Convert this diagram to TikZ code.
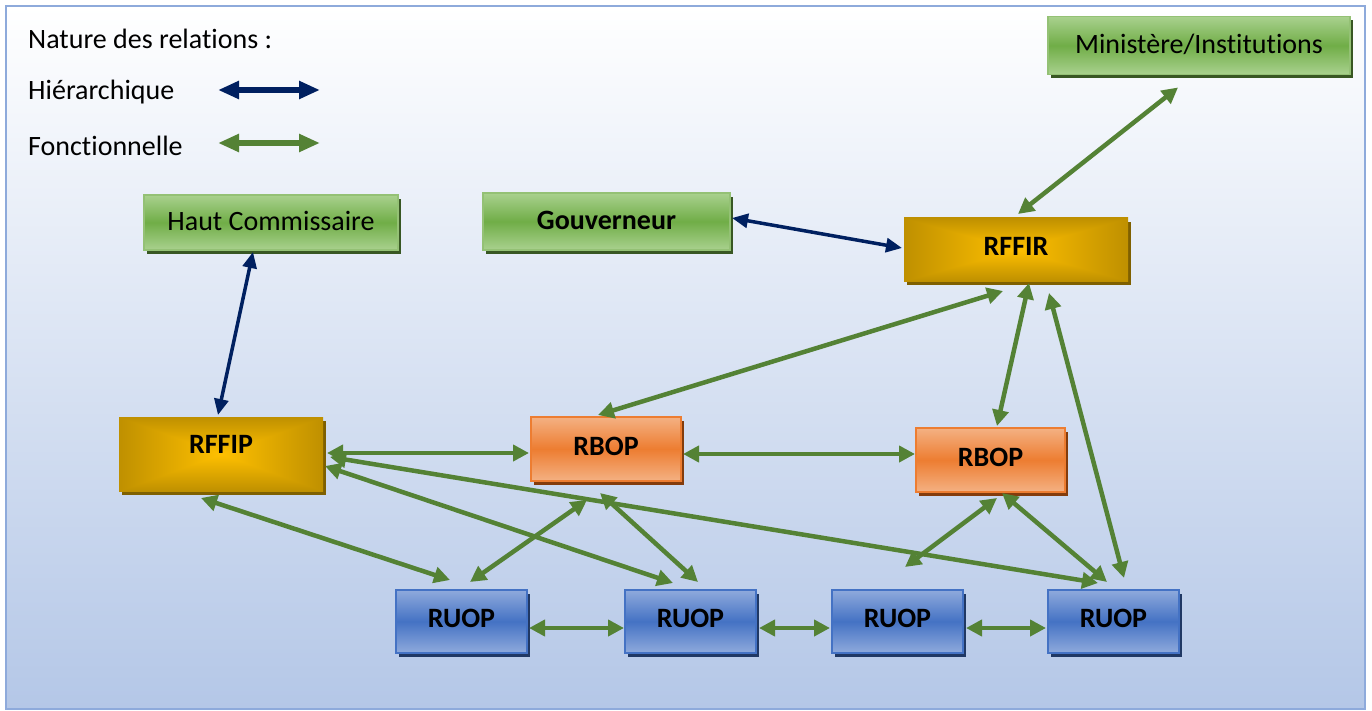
\documentclass[tikz,border=0pt]{standalone}
\usepackage{fontspec}
\setmainfont{Carlito}[Ligatures=NoCommon]
\usetikzlibrary{arrows.meta,shadows,calc}
\definecolor{navy}{HTML}{002060}
\definecolor{fgreen}{HTML}{548235}
\definecolor{gLight}{HTML}{A9D18E}
\definecolor{gMid}{HTML}{70AD47}
\definecolor{gShadow}{HTML}{385723}
\definecolor{oLight}{HTML}{F4B183}
\definecolor{oMid}{HTML}{ED7D31}
\definecolor{oShadow}{HTML}{843C0C}
\definecolor{bLight}{HTML}{8FAADC}
\definecolor{bMid}{HTML}{4472C4}
\definecolor{bShadow}{HTML}{203864}
\definecolor{goldShadow}{HTML}{7F6000}
\definecolor{bgBottom}{HTML}{B4C7E7}
\definecolor{frameC}{HTML}{8EAADB}
\pgfdeclarefunctionalshading{goldrect}{\pgfpoint{-50bp}{-50bp}}{\pgfpoint{50bp}{50bp}}{}{
  abs exch abs 2 copy sub abs 3 1 roll add add 2 div 25 div
  dup -0.251 mul 1 add exch -0.188 mul 0.753 add 0
}
\tikzset{
  box/.style={rectangle, inner sep=0pt, outer sep=0pt, text=black,
    text height=12pt, text depth=0pt},
  greenbox/.style={box, top color=gLight, bottom color=gLight, middle color=gMid,
    draw=gMid!75!white, line width=1.5pt, text height=17pt,
    drop shadow={shadow xshift=3pt, shadow yshift=-4pt, fill=gShadow, opacity=1}},
  goldbox/.style={box, shade, shading=goldrect, font=\fontsize{28}{34}\selectfont\bfseries,
    drop shadow={shadow xshift=3pt, shadow yshift=-4pt, fill=goldShadow, opacity=1}},
  orangebox/.style={box, top color=oLight, bottom color=oLight, middle color=oMid,
    draw=oMid, line width=2pt, font=\fontsize{28}{34}\selectfont\bfseries,
    drop shadow={shadow xshift=3pt, shadow yshift=-4pt, fill=oShadow, opacity=1}},
  bluebox/.style={box, top color=bLight, bottom color=bLight, middle color=bMid,
    draw=bMid, line width=2pt, font=\fontsize{28}{34}\selectfont\bfseries,
    drop shadow={shadow xshift=3pt, shadow yshift=-4pt, fill=bShadow, opacity=1},
    minimum width=131pt, minimum height=63pt},
  hier/.style={draw=navy, line width=3.5pt, {Triangle[length=16pt,width=14pt]}-{Triangle[length=16pt,width=14pt]}},
  func/.style={draw=fgreen, line width=4.5pt, {Triangle[length=16pt,width=16pt]}-{Triangle[length=16pt,width=16pt]}},
  legtext/.style={anchor=west, inner sep=0pt, text=black}
}
\begin{document}
\begin{tikzpicture}[x=1pt, y=-1pt, font=\fontsize{28}{34}\selectfont]
\useasboundingbox (0,0) rectangle (1372,711);
% background
\fill[white] (0,0) rectangle (1372,711);
\shade[top color=white, bottom color=bgBottom] (6,6) rectangle (1365,709);
\draw[frameC, line width=2.5pt] (6,6) rectangle (1365,709);

% legend
\node[legtext] (leg0) at (28,39) {Nature des relations :};
\node[legtext] (leg1) at (28,92) {Hiérarchique};
\node[legtext] (leg2) at (28,146) {Fonctionnelle};
\coordinate (h1) at (218,90);
\coordinate (h2) at (320,90);
\coordinate (f1) at (218,143);
\coordinate (f2) at (320,143);
\draw[draw=navy, line width=5.5pt, {Triangle[length=21pt,width=17pt]}-{Triangle[length=21pt,width=17pt]}] (h1) -- (h2);
\draw[draw=fgreen, line width=5.5pt, {Triangle[length=21pt,width=17pt]}-{Triangle[length=21pt,width=17pt]}] (f1) -- (f2);

% nodes
\node[greenbox, minimum width=302pt, minimum height=58pt] (mini) at (1199,45.5) {Ministère/Institutions};
\node[greenbox, minimum width=254pt, minimum height=55pt] (haut) at (271,222.5) {Haut Commissaire};
\node[greenbox, minimum width=247pt, minimum height=57pt, font=\fontsize{28}{34}\selectfont\bfseries] (gouv) at (606.5,221.5) {Gouverneur};
\node[goldbox, minimum width=224pt, minimum height=63pt] (rffir) at (1016,249.5) {RFFIR};
\node[goldbox, minimum width=204pt, minimum height=74pt, text height=0pt, text depth=2pt] (rffip) at (221,454) {RFFIP};
\node[orangebox, minimum width=150pt, minimum height=64pt] (rbop1) at (606,449) {RBOP};
\node[orangebox, minimum width=149pt, minimum height=64pt] (rbop2) at (990.5,460) {RBOP};
\node[bluebox] (ruop1) at (461.5,621.5) {RUOP};
\node[bluebox] (ruop2) at (690.5,621.5) {RUOP};
\node[bluebox] (ruop3) at (897.5,621.5) {RUOP};
\node[bluebox] (ruop4) at (1113.5,621.5) {RUOP};

% hierarchical connectors
\draw[hier] ([shift={(-18,2)}]haut.south) -- ([shift={(-3,-2)}]rffip.north);
\draw[hier] ([shift={(2,-3.5)}]gouv.east) -- ([shift={(-2,-1.5)}]rffir.west);

% functional connectors
\draw[func] ([shift={(-21,13)}]mini.south) -- ([shift={(2,-4)}]rffir.north);
\draw[func] ([shift={(-13,10)}]rffir.south) -- ([shift={(-8,-2)}]rbop1.north);
\draw[func] ([shift={(13,2)}]rffir.south) -- ([shift={(6.5,-2)}]rbop2.north);
\draw[func] ([shift={(33,12)}]rffir.south) -- ([shift={(10.5,-12)}]ruop4.north);
\draw[func] ([shift={(4,-1)}]rffip.east) -- ([shift={(-2,4)}]rbop1.west);
\draw[func] ([shift={(2,5)}]rbop1.east) -- ([shift={(-1,-6)}]rbop2.west);
\draw[func] ([shift={(-20,7)}]rffip.south) -- ([shift={(-11.5,-10)}]ruop1.north);
\draw[func] ([shift={(2,12)}]rffip.east) -- ([shift={(-17.5,-7)}]ruop2.north);
\draw[func] ([shift={(7,3)}]rffip.east) -- ([shift={(-15.5,-7)}]ruop4.north);
\draw[func] ([shift={(-19,19)}]rbop1.south) -- ([shift={(8.5,-8)}]ruop1.north);
\draw[func] ([shift={(-6,12)}]rbop1.south) -- ([shift={(7.5,-8)}]ruop2.north);
\draw[func] ([shift={(6.5,6)}]rbop2.south) -- ([shift={(7.5,-23)}]ruop3.north);
\draw[func] ([shift={(11.5,1)}]rbop2.south) -- ([shift={(-6.5,-8)}]ruop4.north);
\draw[func] ([shift={(2,6.5)}]ruop1.east) -- ([shift={(-1,6.5)}]ruop2.west);
\draw[func] ([shift={(3,6.5)}]ruop2.east) -- ([shift={(-2,6.5)}]ruop3.west);
\draw[func] ([shift={(3,6.5)}]ruop3.east) -- ([shift={(-2,6.5)}]ruop4.west);
\end{tikzpicture}
\end{document}
